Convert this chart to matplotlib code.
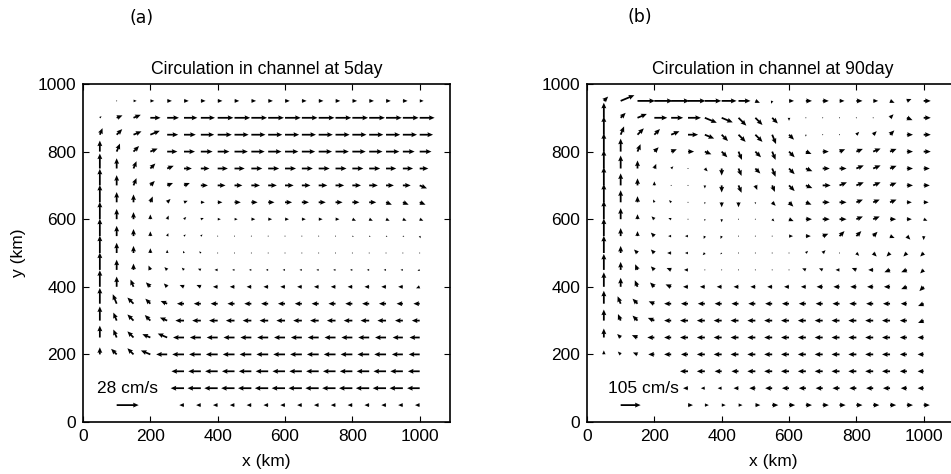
import numpy as np
import matplotlib
matplotlib.use("Agg")
import matplotlib.pyplot as plt

nan = np.nan
# grid (km)
x_km = [50, 100, 150, 200, 250, 300, 350, 400, 450, 500,
        550, 600, 650, 700, 750, 800, 850, 900, 950, 1000]
y_km = [950, 900, 850, 800, 750, 700, 650, 600, 550, 500,
        450, 400, 350, 300, 250, 200, 150, 100, 50]

# ---- panel (a): 5 day, speed (cm/s) and direction, rows from y=950 down to y=50
a_speed = [
    [nan, 1, 4, 5, 6, 6, 6, 6, 6, 6, 6, 6, 6, 6, 6, 6, 6, 6, 6, 5],
    [3, 8, 10, 13, 15, 17, 18, 20, 20, 20, 20, 20, 20, 20, 20, 20, 20, 20, 20, 19],
    [9, 10, 11, 13, 14, 15, 17, 18, 18, 18, 18, 18, 18, 18, 18, 18, 18, 18, 18, 17],
    [14, 11, 10, 10, 13, 14, 15, 15, 17, 17, 17, 17, 17, 17, 17, 17, 17, 17, 15, 15],
    [19, 13, 10, 9, 9, 10, 11, 13, 13, 14, 14, 14, 14, 14, 14, 14, 14, 13, 13, 11],
    [21, 13, 10, 8, 8, 8, 9, 10, 10, 11, 11, 11, 11, 11, 11, 11, 11, 10, 10, 10],
    [22, 13, 10, 8, 6, 5, 5, 6, 8, 8, 8, 9, 9, 9, 9, 9, 9, 8, 8, 8],
    [22, 13, 9, 6, 5, 4, 4, 4, 4, 5, 5, 5, 5, 5, 5, 5, 5, 5, 5, 5],
    [22, 13, 9, 6, 4, 3, 3, 1, 1, 1, 1, 1, 1, 1, 1, 2, 2, 2, 2, 3],
    [22, 13, 9, 6, 4, 3, 3, 1, 1, 1, 1, 1, 1, 1, 1, 1, 1, 1, 1, 1],
    [22, 13, 8, 6, 5, 4, 4, 4, 3, 3, 3, 3, 3, 3, 3, 3, 3, 3, 3, 3],
    [21, 13, 10, 8, 6, 6, 6, 6, 6, 6, 6, 6, 6, 6, 6, 6, 6, 6, 6, 5],
    [20, 13, 11, 9, 9, 9, 9, 9, 9, 9, 9, 9, 9, 9, 9, 9, 9, 9, 8, 8],
    [18, 11, 11, 10, 10, 11, 11, 11, 11, 11, 11, 11, 11, 11, 11, 11, 11, 11, 10, 10],
    [15, 11, 11, 11, 13, 14, 14, 14, 14, 14, 14, 14, 14, 14, 14, 14, 14, 14, 13, 13],
    [9, 10, 11, 13, 14, 15, 15, 15, 15, 15, 15, 15, 15, 15, 15, 15, 15, 15, 14, 14],
    [nan, nan, nan, nan, nan, 16, 16, 16, 16, 16, 16, 16, 16, 16, 16, 16, 16, 16, 16, 15],
    [nan, nan, nan, nan, nan, 17, 17, 17, 17, 17, 17, 17, 17, 17, 17, 17, 17, 17, 17, 16],
    [nan, nan, nan, nan, nan, 6, 6, 6, 6, 6, 6, 6, 6, 6, 6, 6, 6, 6, 6, 6],
]
a_dir = [
    ". E E E E E E E E E E E E E E E E E E E".split(),
    "NE ENE ENE E E E E E E E E E E E E E E E E E".split(),
    "NNE NE ENE ENE E E E E E E E E E E E E E E E E".split(),
    "N NNE NE ENE E E E E E E E E E E E E E E E E".split(),
    "N N NNE NE ENE E E E E E E E E E E E E E E E".split(),
    "N N NNE NE ENE ENE E E E E E E E E E E E E E ESE".split(),
    "N N N NNE NE ENE E E E E E E E E E E E ESE ESE ESE".split(),
    "N N N N NNE NE ENE E E E E E E E E ESE ESE ESE ESE ESE".split(),
    "N N N N NNE NE NE E E E E E E E E ESE ESE ESE ESE SSE".split(),
    "N N N N N NNW NW W W W W W W W W W W W W W".split(),
    "N N N NNW NW NW WNW W W W W W W W W W W W W WSW".split(),
    "N N NNW NW NW WNW WNW W W W W W W W W W W W W WSW".split(),
    "N NNW NW NW WNW W W W W W W W W W W W W W W W".split(),
    "N NNW NW NW WNW W W W W W W W W W W W W W W W".split(),
    "N NNW NW WNW WNW W W W W W W W W W W W W W W W".split(),
    "N NW NW WNW W W W W W W W W W W W W W W W W".split(),
    ". . . . . W W W W W W W W W W W W W W W".split(),
    ". . . . . W W W W W W W W W W W W W W W".split(),
    ". . . . . W W W W W W W W W W W W W W W".split(),
]

# ---- panel (b): 90 day
b_speed = [
    [32, 78, 92, 96, 96, 92, 86, 78, 63, 26, 16, 26, 32, 32, 26, 32, 26, 26, 26, 37],
    [79, 37, 53, 68, 63, 68, 68, 63, 58, 53, 42, 16, 5, 5, 5, 5, 5, 26, 32, 37],
    [96, 47, 47, 42, 47, 53, 53, 47, 53, 53, 53, 37, 10, 5, 5, 21, 26, 32, 32, 37],
    [96, 68, 42, 32, 32, 32, 37, 42, 47, 42, 47, 42, 32, 32, 32, 37, 42, 37, 32, 37],
    [96, 68, 42, 26, 16, 5, 21, 37, 42, 37, 47, 42, 37, 37, 37, 42, 42, 37, 32, 32],
    [96, 63, 37, 21, 5, 5, 16, 37, 42, 26, 37, 42, 37, 42, 42, 42, 42, 37, 32, 32],
    [96, 63, 32, 16, 16, 5, 10, 26, 26, 10, 26, 32, 32, 37, 37, 37, 37, 37, 26, 26],
    [96, 58, 26, 21, 16, 5, 10, 16, 5, 5, 16, 26, 32, 37, 37, 37, 37, 32, 26, 21],
    [92, 42, 26, 26, 16, 16, 16, 16, 5, 5, 5, 21, 26, 32, 37, 37, 32, 26, 26, 21],
    [90, 37, 26, 26, 21, 16, 16, 10, 5, 5, 5, 5, 16, 21, 5, 21, 26, 26, 26, 26],
    [84, 42, 32, 26, 26, 21, 5, 5, 5, 5, 5, 5, 21, 21, 21, 26, 26, 32, 32, 26],
    [76, 47, 37, 32, 32, 26, 26, 26, 26, 26, 26, 26, 26, 32, 32, 32, 32, 32, 32, 32],
    [68, 42, 37, 32, 37, 37, 37, 37, 37, 37, 37, 37, 37, 37, 37, 37, 37, 37, 32, 32],
    [58, 37, 37, 37, 37, 42, 42, 42, 42, 42, 42, 42, 42, 42, 42, 42, 42, 42, 37, 32],
    [47, 26, 32, 37, 37, 42, 42, 42, 42, 42, 42, 42, 42, 42, 42, 42, 42, 42, 37, 32],
    [21, 21, 26, 32, 37, 37, 42, 42, 42, 42, 42, 42, 42, 42, 42, 42, 42, 42, 37, 32],
    [nan, nan, nan, nan, nan, 42, 42, 37, 37, 42, 42, 42, 42, 42, 42, 42, 42, 42, 37, 32],
    [nan, nan, nan, nan, nan, 26, 21, 21, 26, 32, 37, 37, 37, 37, 37, 37, 37, 37, 32, 32],
    [nan, nan, nan, nan, nan, 26, 21, 21, 21, 26, 32, 32, 32, 32, 32, 32, 32, 32, 32, 32],
]
b_dir = [
    "NE ENE E E E E E E E ESE SSW E E E E E E ESE ENE E".split(),
    "N NE ENE E E E ESE ESE SE SE SE S E E E E E NE ESE E".split(),
    "N NNE NE NE ENE E ESE SE SE SE SSE SE S E E NE NE NE E E".split(),
    "N N NNE NE ENE E ESE SE SSE SE SSE SE ESE E ENE ENE ENE ENE E E".split(),
    "N N N NNE NE E SE S SSE SE SSE SE ESE E E ENE ENE ENE E E".split(),
    "N N N N E E S S SSE SSE SSE SE ESE E ENE ENE ENE ENE E E".split(),
    "N N N NNW NW E S S S S SE SE ESE E E ENE ENE ENE E E".split(),
    "N N N NW WNW E S S S E SE ESE E E E ENE ENE E E ESE".split(),
    "N N N NW W W SSW SSW E E E E E ENE NE NE NE ESE SE S".split(),
    "N N NW NW W W SW SW E E E E NE NE E SE SE SW SW SW".split(),
    "N N NNW NW WNW W W W W W W W WNW WNW W WNW W WSW WSW SW".split(),
    "N N NNW NW WNW W W W W W W W W W W W W W WSW SW".split(),
    "N NNW NW WNW W W W W W W W W W W W W W W W WSW".split(),
    "N NNW NW WNW W W W W W W W W W W W W W W W WSW".split(),
    "N NW WNW W W W W W W W W W W W W W W W W W".split(),
    "N NW WNW W W W W W W W W W W W W W W W W W".split(),
    ". . . . . W W W W W W W W W W W W W W W".split(),
    ". . . . . W W W W W W W W W W W W W W W".split(),
    ". . . . . E E E E E E E E E E E E E E E".split(),
]

titles = ["Circulation in channel at 5day", "Circulation in channel at 90day"]
panel_tags = ["(a)", "(b)"]
key_speed = [28, 105]
key_labels = ["28 cm/s", "105 cm/s"]
ticks = [0, 200, 400, 600, 800, 1000]

compass = {"E": 0, "ENE": 22.5, "NE": 45, "NNE": 67.5, "N": 90, "NNW": 112.5,
           "NW": 135, "WNW": 157.5, "W": 180, "WSW": 202.5, "SW": 225,
           "SSW": 247.5, "S": 270, "SSE": 292.5, "SE": 315, "ESE": 337.5, ".": 0}


def to_uv(speed, dirs):
    sp = np.array(speed, dtype=float)
    ang = np.deg2rad(np.array([[compass[d] for d in row] for row in dirs]))
    return sp * np.cos(ang), sp * np.sin(ang)


plt.rcParams["font.family"] = ["Liberation Sans", "DejaVu Sans"]
fig = plt.figure(figsize=(9.51, 4.74), dpi=100)
W, H = 951, 474
ax_px = [(83, 367), (587, 372)]
km_per_px = 1090 / 367.0
qkw = dict(angles="xy", scale_units="xy", width=0.0048, headwidth=2.8,
           headlength=3.2, headaxislength=2.9, minlength=0.6, color="black")
for i, (spd, drs) in enumerate([(a_speed, a_dir), (b_speed, b_dir)]):
    left, width = ax_px[i]
    ax = fig.add_axes([left / W, (474 - 422) / H, width / W, 338 / H])
    X, Y = np.meshgrid(x_km, y_km)
    U, V = to_uv(spd, drs)
    key_px = 22 if i == 0 else 20
    s = key_speed[i] / (key_px * km_per_px)
    ax.quiver(X, Y, U, V, scale=s, **qkw)
    ax.quiver([100], [50], [key_speed[i]], [0], scale=s, **qkw)
    ax.text(42 if i == 0 else 62, 98, key_labels[i], fontsize=12.5,
            va="center", ha="left")
    ax.set_xlim(0, 1090 * width / 367.0)
    ax.set_ylim(0, 1000)
    ax.set_xticks(ticks)
    ax.set_yticks(ticks)
    ax.tick_params(direction="in", top=True, right=True, length=4,
                   labelsize=12.5, pad=5)
    for sp in ax.spines.values():
        sp.set_linewidth(1.2)
    ax.set_title(titles[i], fontsize=12.7, pad=7)
    ax.set_xlabel("x (km)", fontsize=12.5, labelpad=7)
    if i == 0:
        ax.set_ylabel("y (km)", fontsize=12.5, labelpad=8)

fig.text(142 / W, 1 - 18 / H, panel_tags[0], fontsize=12.5,
         family="DejaVu Sans", ha="center", va="center")
fig.text(640 / W, 1 - 17 / H, panel_tags[1], fontsize=12.5,
         family="DejaVu Sans", ha="center", va="center")

fig.savefig("out.png", dpi=100)
